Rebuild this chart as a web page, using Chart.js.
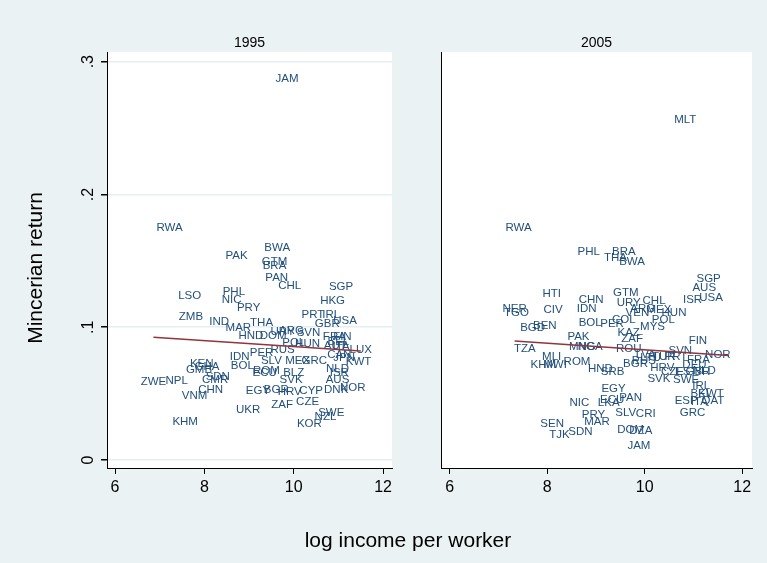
<!DOCTYPE html>
<html>
<head>
<meta charset="utf-8">
<script src="https://cdn.jsdelivr.net/npm/chart.js@4/dist/chart.umd.min.js"></script>
<style>
  html, body { margin: 0; padding: 0; background: #eaf2f3; }
  #wrap { position: relative; width: 767px; height: 563px; overflow: hidden; }
  canvas { position: absolute; left: 0; top: 0; }
</style>
</head>
<body>
<div id="wrap">
  <canvas id="p1995" width="767" height="563"></canvas>
  <canvas id="p2005" width="767" height="563"></canvas>
</div>
<script>
// Panel titles
const years = ['1995', '2005'];

// 1995: country code, log income per worker, Mincerian return
const codes1995 = ['JAM','RWA','PAK','BWA','GTM','BRA','PAN','CHL','SGP','HKG','LSO','PHL','NIC','PRY','ZMB','IND','MAR','THA','PRT','IRL','USA','GBR','HND','DOM','URY','ARG','SVN','FRA','FIN','BEL','HUN','POL','AUT','ITA','LUX','PER','RUS','CAN','JPN','SLV','MEX','GRC','KWT','IDN','BOL','ROM','ECU','BLZ','NLD','ISR','SVK','AUS','NOR','DNK','CYP','EGY','BGR','HRV','ZAF','CZE','SWE','NZL','KOR','UKR','KEN','GHA','GMB','ZWE','NPL','SDN','CMR','CHN','VNM','KHM'];
const x1995 = [9.85,7.22,8.72,9.63,9.57,9.57,9.62,9.91,11.06,10.87,7.67,8.66,8.61,8.99,7.70,8.33,8.76,9.28,10.43,10.84,11.15,10.75,9.04,9.54,9.75,9.95,10.33,10.91,11.09,11.00,10.31,10.00,10.93,11.06,11.50,9.28,9.75,11.02,11.13,9.50,10.09,10.46,11.45,8.79,8.85,9.39,9.35,10.00,10.98,11.02,9.94,10.98,11.32,10.95,10.39,9.20,9.61,9.91,9.74,10.31,10.84,10.71,10.35,8.98,7.94,8.06,7.88,6.86,7.38,8.30,8.24,8.14,7.78,7.57];
const y1995 = [0.287,0.175,0.154,0.160,0.149,0.146,0.137,0.131,0.1305,0.120,0.1235,0.127,0.121,0.1147,0.108,0.1043,0.0992,0.1034,0.109,0.109,0.1049,0.1024,0.0934,0.0939,0.0964,0.0971,0.0956,0.093,0.0926,0.0889,0.0877,0.0881,0.0858,0.0851,0.0832,0.081,0.0828,0.079,0.0768,0.0748,0.0748,0.0748,0.0736,0.0776,0.071,0.067,0.0653,0.0653,0.0683,0.0659,0.0602,0.0602,0.0547,0.0527,0.052,0.0522,0.0527,0.051,0.0414,0.0439,0.0359,0.0322,0.0269,0.0377,0.0723,0.0704,0.0678,0.059,0.0595,0.0629,0.0602,0.0532,0.0484,0.0288];

// 2005
const codes2005 = ['MLT','RWA','PHL','BRA','THA','BWA','SGP','AUS','USA','ISR','HTI','GTM','CHN','URY','CHL','IDN','CIV','NER','TGO','ARG','MEX','VEN','HUN','POL','COL','BOL','PER','BGD','BEN','MYS','KAZ','ZAF','PAK','FIN','TZA','MNG','NGA','ROU','SVN','NOR','PRT','TUR','FRA','LVA','LTU','MLI','KHM','MWI','ROM','HND','SRB','BGR','RUS','HRV','CZE','DEU','EST','GBR','NLD','SVK','SWE','IRL','EGY','PAN','ECU','LKA','BEL','KWT','ESP','ITA','QAT','GRC','CRI','SLV','DOM','DZA','JAM','NIC','PRY','MAR','SEN','TJK','SDN'];
const x2005 = [10.83,7.41,8.85,9.57,9.40,9.74,11.31,11.22,11.36,10.98,8.09,9.61,8.90,9.67,10.19,8.81,8.12,7.33,7.37,9.96,10.29,9.85,10.60,10.38,9.57,8.88,9.33,7.70,7.95,10.16,9.67,9.74,8.64,11.09,7.54,8.72,8.88,9.67,10.73,11.50,10.64,10.39,11.10,10.02,10.12,8.09,7.92,8.16,8.61,9.09,9.34,9.81,9.98,10.36,10.57,11.02,10.85,11.09,11.22,10.29,10.85,11.16,9.36,9.71,9.33,9.26,11.16,11.36,10.85,11.12,11.40,10.98,10.02,9.61,9.71,9.92,9.88,8.66,8.95,9.02,8.10,8.25,8.68];
const y2005 = [0.256,0.1747,0.157,0.157,0.152,0.149,0.1368,0.130,0.1225,0.121,0.1255,0.126,0.1205,0.1184,0.120,0.1137,0.113,0.1135,0.1105,0.1137,0.113,0.1105,0.111,0.1054,0.1054,0.103,0.1024,0.0999,0.1009,0.1004,0.0959,0.0909,0.0929,0.0898,0.0836,0.0851,0.0851,0.0841,0.0823,0.0793,0.0778,0.0779,0.0753,0.0791,0.0768,0.0778,0.0715,0.0715,0.074,0.0683,0.0663,0.0728,0.0748,0.0698,0.0665,0.0715,0.0665,0.0665,0.0672,0.0608,0.0602,0.0557,0.0535,0.0472,0.0452,0.0431,0.0497,0.0497,0.0447,0.0439,0.0447,0.0352,0.0346,0.0352,0.0226,0.0221,0.0105,0.0431,0.0339,0.0288,0.0276,0.0188,0.0213];

// Linear fit endpoints for each year
const fit1995X = [6.86, 11.50];
const fit1995Y = [0.0924, 0.0821];
const fit2005X = [7.33, 11.73];
const fit2005Y = [0.0897, 0.0788];

// Axis ticks
const xTickValues = [6, 8, 10, 12];
const yTickValues = [0, 0.1, 0.2, 0.3];
const yTickLabels = ['0', '.1', '.2', '.3'];

const FONT = "'Liberation Sans', Arial, Helvetica, sans-serif";
const LABEL_COLOR = '#22507c';
const FIT_COLOR = '#90353b';
const W = 767, H = 563;

function toPoints(xs, ys) { return xs.map((x, i) => ({ x: x, y: ys[i] })); }

// White plot region behind each panel
const panelFill = {
  id: 'panelFill',
  beforeDraw(chart) {
    const a = chart.chartArea, ctx = chart.ctx;
    ctx.save();
    ctx.fillStyle = '#ffffff';
    ctx.fillRect(a.left, a.top, a.right - a.left, a.bottom - a.top);
    ctx.restore();
  }
};

// Country codes drawn centred on their points
const markerLabels = {
  id: 'markerLabels',
  afterDatasetDraw(chart, args) {
    const ds = chart.data.datasets[args.index];
    if (!ds.codes) return;
    const ctx = chart.ctx;
    ctx.save();
    ctx.font = '11.5px ' + FONT;
    ctx.fillStyle = LABEL_COLOR;
    ctx.textAlign = 'center';
    ctx.textBaseline = 'middle';
    args.meta.data.forEach((el, i) => {
      ctx.fillText(ds.codes[i], el.x, el.y);
    });
    ctx.restore();
  }
};

// Titles and vertical y tick labels
const panelText = {
  id: 'panelText',
  afterDraw(chart, args, opts) {
    const ctx = chart.ctx, a = chart.chartArea;
    ctx.save();
    ctx.fillStyle = '#000';
    ctx.textAlign = 'center';
    ctx.textBaseline = 'alphabetic';
    ctx.font = '14px ' + FONT;
    ctx.fillText(opts.title, (a.left + a.right) / 2, 47);
    if (opts.yLabels) {
      const ys = chart.scales.y;
      ctx.font = '16px ' + FONT;
      ctx.textBaseline = 'middle';
      yTickValues.forEach((v, i) => {
        const py = ys.getPixelForValue(v);
        ctx.save();
        ctx.translate(a.left - 18, py);
        ctx.rotate(-Math.PI / 2);
        ctx.fillText(yTickLabels[i], 0, 0);
        ctx.restore();
      });
      ctx.font = '21px ' + FONT;
      ctx.save();
      ctx.translate(36, 268);
      ctx.rotate(-Math.PI / 2);
      ctx.fillText('Mincerian return', 0, 0);
      ctx.restore();
      ctx.textBaseline = 'alphabetic';
      ctx.fillText('log income per worker', 408, 547);
    }
    ctx.restore();
  }
};

function makePanel(id, title, codes, xs, ys, fx, fy, box, isFirst) {
  return new Chart(document.getElementById(id), {
    type: 'scatter',
    data: {
      datasets: [
        { data: toPoints(xs, ys), codes: codes, pointRadius: 0, pointHoverRadius: 0, order: 1 },
        { type: 'line', data: toPoints(fx, fy), showLine: true, borderColor: FIT_COLOR,
          borderWidth: 1.5, pointRadius: 0, fill: false, order: 0 }
      ]
    },
    options: {
      responsive: false,
      animation: false,
      devicePixelRatio: 1,
      events: [],
      layout: { padding: { left: 0, top: box.top, right: W - box.right, bottom: 0 } },
      plugins: {
        legend: { display: false },
        tooltip: { enabled: false },
        title: { display: false },
        panelText: { title: title, yLabels: isFirst }
      },
      scales: {
        x: {
          type: 'linear', min: 5.82, max: 12.2,
          afterBuildTicks(s) { s.ticks = xTickValues.map(v => ({ value: v })); },
          afterFit(s) { s.height = H - box.bottom; },
          ticks: { font: { family: FONT, size: 16 }, color: '#000', padding: 4, maxRotation: 0 },
          grid: { display: true, drawOnChartArea: false, drawTicks: true, tickLength: 6, tickColor: '#000', color: '#000' },
          border: { display: true, color: '#000', width: 1 }
        },
        y: {
          type: 'linear', min: -0.00602, max: 0.3073,
          afterBuildTicks(s) { s.ticks = yTickValues.map(v => ({ value: v })); },
          afterFit(s) { s.width = box.left; },
          ticks: { display: false },
          grid: isFirst
            ? { display: true, drawOnChartArea: true, color: '#e6eef0', lineWidth: 1.5, drawTicks: true, tickLength: 6, tickColor: '#000' }
            : { display: true, drawOnChartArea: false, drawTicks: false },
          border: { display: true, color: '#000', width: 1 }
        }
      }
    },
    plugins: [panelFill, markerLabels, panelText]
  });
}

makePanel('p1995', years[0], codes1995, x1995, y1995, fit1995X, fit1995Y,
  { left: 107, right: 392, top: 52, bottom: 468 }, true);
makePanel('p2005', years[1], codes2005, x2005, y2005, fit2005X, fit2005Y,
  { left: 441, right: 752, top: 52, bottom: 468 }, false);
</script>
</body>
</html>
